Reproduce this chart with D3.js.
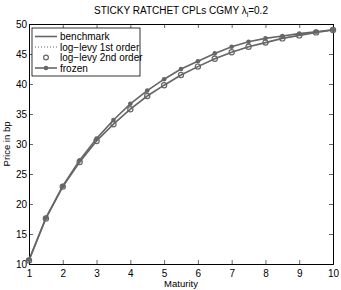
<!DOCTYPE html>
<html>
<head>
<meta charset="utf-8">
<script src="https://cdn.jsdelivr.net/npm/d3@7"></script>
<style>
  body { margin: 0; background: #fff; }
  svg { font-family: "Liberation Sans", Arial, sans-serif; }
</style>
</head>
<body>
<svg id="chart"></svg>
<script>
// maturities and prices
const maturity = [1, 1.5, 2, 2.5, 3, 3.5, 4, 4.5, 5, 5.5, 6, 6.5, 7, 7.5, 8, 8.5, 9, 9.5, 10];
const benchmark = [10.6, 17.6, 22.9, 27.0, 30.5, 33.3, 35.8, 38.0, 39.8, 41.5, 42.9, 44.2, 45.3, 46.2, 46.9, 47.6, 48.1, 48.6, 49.0];
const logLevy1 = [10.6, 17.6, 22.9, 27.0, 30.5, 33.3, 35.8, 38.0, 39.8, 41.5, 42.9, 44.2, 45.3, 46.2, 46.9, 47.6, 48.1, 48.6, 49.0];
const logLevy2 = [10.6, 17.6, 22.9, 27.0, 30.5, 33.3, 35.8, 38.0, 39.8, 41.5, 42.9, 44.2, 45.3, 46.2, 46.9, 47.6, 48.1, 48.6, 49.0];
const frozen = [10.7, 17.7, 23.0, 27.3, 30.9, 34.0, 36.7, 38.9, 40.8, 42.5, 43.8, 45.1, 46.2, 47.05, 47.6, 48.0, 48.4, 48.7, 49.05];
const xTicks = [1, 2, 3, 4, 5, 6, 7, 8, 9, 10];
const yTicks = [10, 15, 20, 25, 30, 35, 40, 45, 50];
const legendLabels = ["benchmark", "log\u2212levy 1st order", "log\u2212levy 2nd order", "frozen"];

const width = 341;
const height = 290;
const margin = {top: 24, right: 8, bottom: 26, left: 29};
const col = "#666";

const svg = d3.select("#chart")
    .attr("width", width)
    .attr("height", height);

const x = d3.scaleLinear()
    .domain([1, 10])
    .range([margin.left, width - margin.right]);

const y = d3.scaleLinear()
    .domain([10, 50])
    .range([height - margin.bottom, margin.top]);

// axes, MATLAB style: ticks inside, box all round
const tickLen = 4;
svg.append("g")
    .attr("transform", `translate(0, ${y(10)})`)
    .call(d3.axisBottom(x).tickValues(xTicks).tickSize(-tickLen).tickPadding(6).tickFormat(d3.format("d")));
svg.append("g")
    .attr("transform", `translate(0, ${y(50)})`)
    .call(d3.axisTop(x).tickValues(xTicks).tickSize(-tickLen).tickFormat(""));
svg.append("g")
    .attr("transform", `translate(${x(1)}, 0)`)
    .call(d3.axisLeft(y).tickValues(yTicks).tickSize(-tickLen).tickPadding(2).tickFormat(d3.format("d")));
svg.append("g")
    .attr("transform", `translate(${x(10)}, 0)`)
    .call(d3.axisRight(y).tickValues(yTicks).tickSize(-tickLen).tickFormat(""));

svg.selectAll(".domain").attr("stroke", "#000").attr("stroke-width", 1);
svg.selectAll(".tick line").attr("stroke", "#000").attr("stroke-width", 0.6);
svg.selectAll(".tick text").attr("font-size", 10).attr("fill", "#000")
    .attr("font-family", "Liberation Sans, Arial, sans-serif");

// labels
svg.append("text")
    .attr("x", (x(1) + x(10)) / 2)
    .attr("y", 287)
    .attr("text-anchor", "middle")
    .attr("font-size", 9.5)
    .text("Maturity");

svg.append("text")
    .attr("transform", `translate(10, ${(y(10) + y(50)) / 2}) rotate(-90)`)
    .attr("text-anchor", "middle")
    .attr("font-size", 9.5)
    .text("Price in bp");

const title = svg.append("text")
    .attr("x", 181)
    .attr("y", 14)
    .attr("text-anchor", "middle")
    .attr("font-size", 10);
title.append("tspan").text("STICKY RATCHET CPLs CGMY \u03bb");
title.append("tspan").attr("font-size", 7).attr("dy", 3).text("l");
title.append("tspan").attr("dy", -3).text("=0.2");

// series
const pts = vals => maturity.map((m, i) => [m, vals[i]]);
const line = d3.line().x(d => x(d[0])).y(d => y(d[1]));

svg.append("path")
    .datum(pts(benchmark))
    .attr("fill", "none").attr("stroke", col).attr("stroke-width", 1.6)
    .attr("d", line);

svg.append("path")
    .datum(pts(logLevy1))
    .attr("fill", "none").attr("stroke", col).attr("stroke-width", 1)
    .attr("stroke-dasharray", "1,2")
    .attr("d", line);

svg.selectAll(".ll2")
    .data(pts(logLevy2))
    .enter().append("circle")
    .attr("class", "ll2")
    .attr("cx", d => x(d[0])).attr("cy", d => y(d[1]))
    .attr("r", 2.6)
    .attr("fill", "none").attr("stroke", col).attr("stroke-width", 1.2);

svg.append("path")
    .datum(pts(frozen))
    .attr("fill", "none").attr("stroke", col).attr("stroke-width", 1.6)
    .attr("d", line);

svg.selectAll(".fz")
    .data(pts(frozen))
    .enter().append("circle")
    .attr("class", "fz")
    .attr("cx", d => x(d[0])).attr("cy", d => y(d[1]))
    .attr("r", 2.3)
    .attr("fill", col);

// legend
const lg = svg.append("g").attr("transform", "translate(32, 28)");
lg.append("rect")
    .attr("width", 108).attr("height", 48)
    .attr("fill", "#fff").attr("stroke", "#000").attr("stroke-width", 0.8);

legendLabels.forEach((lab, i) => {
    const ly = 8.5 + i * 10.5;
    if (i === 0 || i === 3) {
        lg.append("line").attr("x1", 3).attr("x2", 25).attr("y1", ly).attr("y2", ly)
            .attr("stroke", col).attr("stroke-width", 1.6);
    }
    if (i === 1) {
        lg.append("line").attr("x1", 3).attr("x2", 25).attr("y1", ly).attr("y2", ly)
            .attr("stroke", col).attr("stroke-width", 1).attr("stroke-dasharray", "1,2");
    }
    if (i === 2) {
        lg.append("circle").attr("cx", 14).attr("cy", ly).attr("r", 2.4)
            .attr("fill", "none").attr("stroke", col).attr("stroke-width", 1.2);
    }
    if (i === 3) {
        lg.append("circle").attr("cx", 14).attr("cy", ly).attr("r", 2.3).attr("fill", col);
    }
    lg.append("text")
        .attr("x", 28).attr("y", ly + 3.5)
        .attr("font-size", 10)
        .text(lab);
});
</script>
</body>
</html>
